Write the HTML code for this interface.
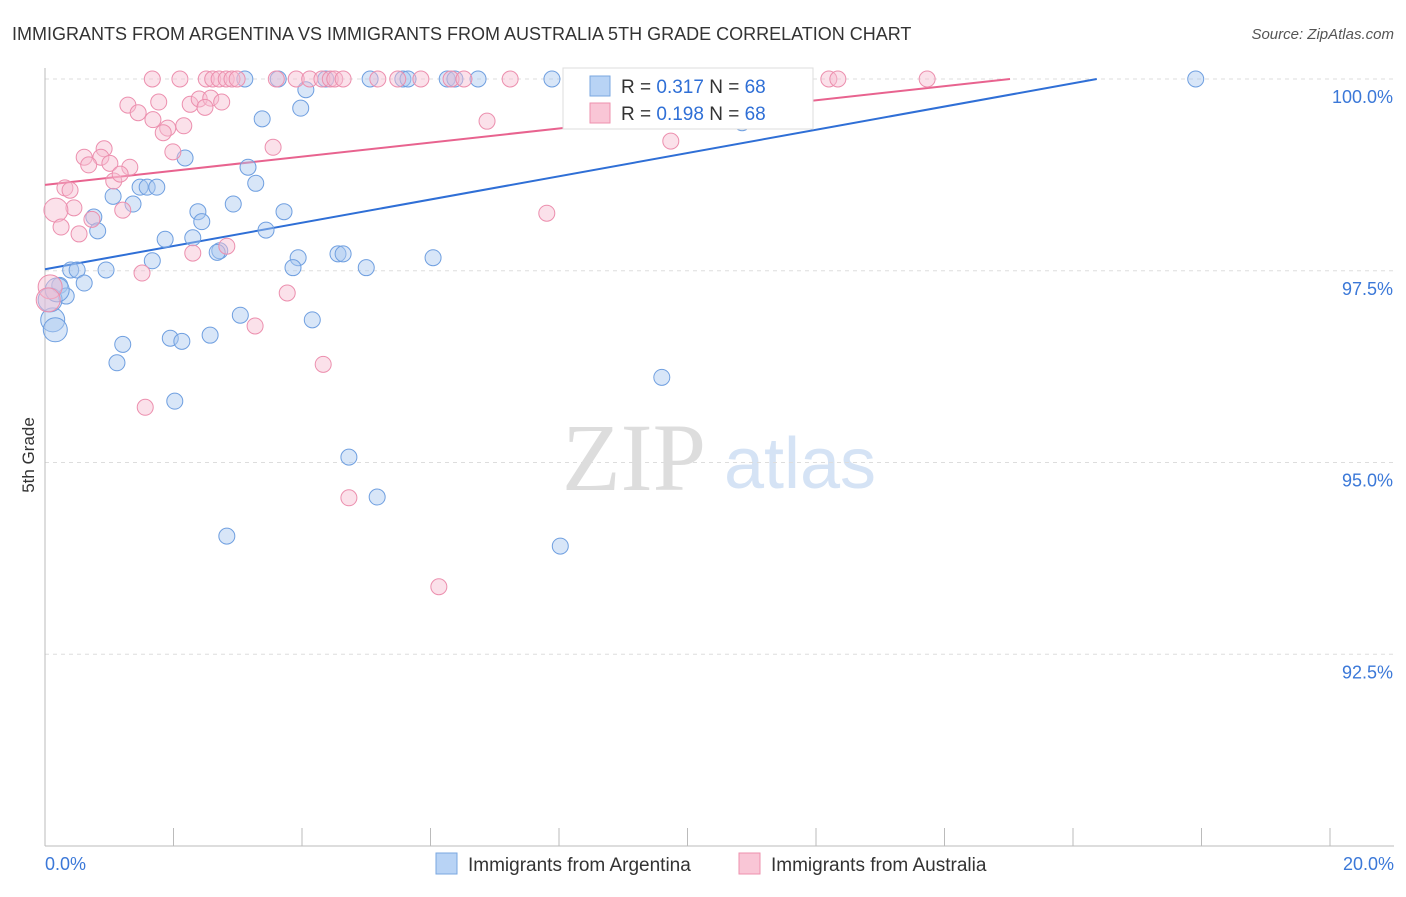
<!DOCTYPE html>
<html><head><meta charset="utf-8"><style>
body{margin:0;background:#fff;font-family:"Liberation Sans",sans-serif;}
svg text{font-family:"Liberation Sans",sans-serif;}
</style></head><body>
<svg id="chart" width="1406" height="892" viewBox="0 0 1406 892">
<text x="12" y="40" font-size="18" fill="#333">IMMIGRANTS FROM ARGENTINA VS IMMIGRANTS FROM AUSTRALIA 5TH GRADE CORRELATION CHART</text>
<text x="1394" y="39" font-size="15" fill="#555" text-anchor="end" font-style="italic">Source: ZipAtlas.com</text>
<text x="34" y="455" font-size="17" fill="#333" text-anchor="middle" transform="rotate(-90 34 455)">5th Grade</text>
<g><text x="634" y="490" font-size="96" fill="#ddd" text-anchor="middle" font-family="Liberation Serif" style="font-family:'Liberation Serif',serif">ZIP</text><text x="800" y="488" font-size="72" fill="#d5e3f5" text-anchor="middle">atlas</text></g>
<g id="grid"></g><g id="axes"></g><g id="lines"></g><g id="pts"></g>
<g>
<rect x="563" y="68" width="250" height="61" fill="#fff" stroke="#ddd"/>
<rect x="590" y="76" width="20" height="20" fill="#b8d3f5" stroke="#7aa7e0"/>
<text x="621" y="93" font-size="19" fill="#333">R = <tspan fill="#2f6fd6">0.317</tspan>   N = <tspan fill="#2f6fd6">68</tspan></text>
<rect x="590" y="103" width="20" height="20" fill="#f9c6d6" stroke="#ee90ae"/>
<text x="621" y="120" font-size="19" fill="#333">R = <tspan fill="#2f6fd6">0.198</tspan>   N = <tspan fill="#2f6fd6">68</tspan></text>
</g>
<g>
<rect x="436" y="853" width="21" height="21" fill="#b8d3f5" stroke="#7aa7e0"/>
<text x="468" y="871" font-size="19" fill="#333">Immigrants from Argentina</text>
<rect x="739" y="853" width="21" height="21" fill="#f9c6d6" stroke="#ee90ae"/>
<text x="771" y="871" font-size="19" fill="#333">Immigrants from Australia</text>
</g>
</svg>
<script>
const blueX=[3.11,3.63,4.37,5.06,5.57,5.65,6.26,6.38,6.74,7.89,8.20,17.91,4.06,3.98,3.38,10.85,2.18,3.16,3.28,1.48,1.59,1.74,1.06,1.37,2.93,2.38,3.72,0.76,2.44,0.82,3.44,1.87,2.30,2.72,2.68,4.56,4.64,3.94,6.04,1.67,3.86,5.00,0.40,0.50,0.95,0.61,0.23,0.33,0.12,0.16,3.04,4.16,1.95,2.13,2.57,1.21,1.12,9.60,2.02,4.73,5.17,2.83,8.02,0.08,0.19];
const blueY=[100,100,100,100,100,100,100,100,100,100,100,100,99.86,99.62,99.48,99.43,98.97,98.85,98.64,98.59,98.59,98.59,98.47,98.37,98.37,98.27,98.27,98.20,98.14,98.02,98.03,97.91,97.93,97.76,97.74,97.72,97.72,97.67,97.67,97.63,97.54,97.54,97.51,97.51,97.51,97.34,97.31,97.17,96.86,96.73,96.92,96.86,96.62,96.58,96.66,96.54,96.30,96.11,95.80,95.07,94.55,94.04,93.91,97.12,97.25];
const pinkX=[1.67,2.10,2.51,2.61,2.71,2.82,2.91,2.99,3.60,3.91,4.12,4.31,4.44,4.51,4.64,5.18,5.49,5.85,6.32,6.52,7.24,12.20,12.34,13.73,1.29,1.77,1.45,2.26,2.40,2.58,2.75,2.49,1.68,2.16,1.91,1.84,6.88,9.74,1.99,0.92,0.87,0.61,0.68,1.01,1.32,1.07,1.17,3.55,0.31,0.39,0.45,0.17,1.21,0.73,0.25,0.53,2.83,2.30,1.51,3.77,0.08,0.05,3.27,4.33,1.56,4.73,6.13,7.81];
const pinkY=[100,100,100,100,100,100,100,100,100,100,100,100,100,100,100,100,100,100,100,100,100,100,100,100,99.66,99.70,99.56,99.67,99.74,99.75,99.70,99.63,99.47,99.39,99.36,99.30,99.45,99.19,99.05,99.09,98.98,98.98,98.88,98.90,98.85,98.67,98.76,99.11,98.58,98.55,98.32,98.29,98.29,98.17,98.07,97.98,97.82,97.73,97.47,97.21,97.29,97.12,96.78,96.28,95.72,94.54,93.38,98.25];
const blueTrend=[0,97.52,16.37,100];
const pinkTrend=[0,98.62,15.02,100];
const yTicks=[100,97.5,95,92.5];
const yTickLabels=["100.0%","97.5%","95.0%","92.5%"];
const xTicks=[0,2,4,6,8,10,12,14,16,18,20];
const xs=v=>45+v*64.25;
const ys=v=>79+(100-v)*76.7;
const NS="http://www.w3.org/2000/svg";
function mk(tag,parent,attrs){const e=document.createElementNS(NS,tag);for(const k in attrs)e.setAttribute(k,attrs[k]);document.getElementById(parent).appendChild(e);return e;}
yTicks.forEach((t,i)=>{
 const l=mk('line','grid',{x1:45,x2:1394,y1:ys(t),y2:ys(t),stroke:'#ddd','stroke-dasharray':'4,4'});
 
 
 const tx=mk('text','axes',{x:1393,y:ys(t)+24,'font-size':18,fill:'#3b78d8','text-anchor':'end'});
 tx.textContent=yTickLabels[i];
 
 
});
const ax=mk('line','axes',{x1:45,x2:45,y1:68,y2:846,stroke:'#bbb'});


const bx=mk('line','axes',{x1:45,x2:1394,y1:846,y2:846,stroke:'#bbb'});


xTicks.forEach(t=>{
 const l=mk('line','axes',{x1:xs(t),x2:xs(t),y1:828,y2:846,stroke:'#bbb'});
 
 
});
const xl0=mk('text','axes',{x:45,y:870,'font-size':18,fill:'#3b78d8'});xl0.textContent='0.0%';


const xl1=mk('text','axes',{x:1394,y:870,'font-size':18,fill:'#3b78d8','text-anchor':'end'});xl1.textContent='20.0%';


function pts(X,Y,fill,stroke,name){X.forEach((x,i)=>{
 const r=(x<0.2)?12:8;
 const c=mk('circle','pts',{cx:xs(x),cy:ys(Y[i]),r:r,fill:fill,'fill-opacity':0.45,stroke:stroke,'stroke-width':1});
 
 
});}
pts(blueX,blueY,'#a9c8f0','#6f9fe0','argentina-point');
pts(pinkX,pinkY,'#f7bcd0','#ec8fae','australia-point');
const bl=mk('line','lines',{x1:xs(blueTrend[0]),y1:ys(blueTrend[1]),x2:xs(blueTrend[2]),y2:ys(blueTrend[3]),stroke:'#2f6fd6','stroke-width':2});


const pl=mk('line','lines',{x1:xs(pinkTrend[0]),y1:ys(pinkTrend[1]),x2:xs(pinkTrend[2]),y2:ys(pinkTrend[3]),stroke:'#e8638f','stroke-width':2});


</script>
</body></html>
